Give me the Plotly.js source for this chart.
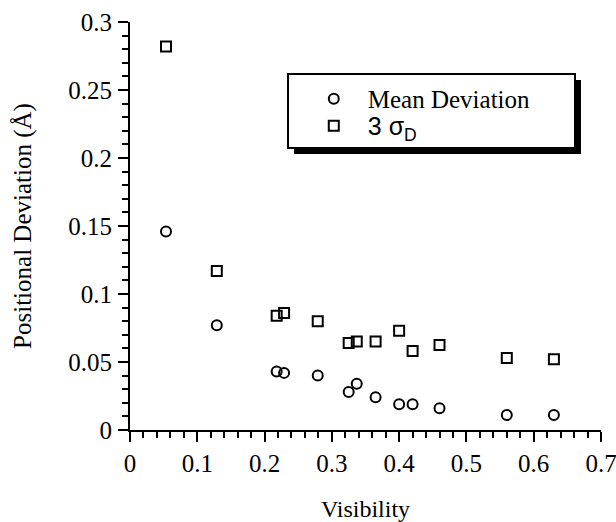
<!DOCTYPE html>
<html>
<head>
<meta charset="utf-8">
<script src="https://cdn.plot.ly/plotly-3.0.1.min.js"></script>
<style>html,body{margin:0;padding:0;background:#fff;}#chart{width:616px;height:522px;}</style>
</head>
<body>
<div id="chart"></div>
<script>
var visibility = [0.0535, 0.129, 0.218, 0.229, 0.279, 0.325, 0.337, 0.365, 0.400, 0.420, 0.460, 0.560, 0.630];
var meanDeviation = [0.146, 0.077, 0.043, 0.042, 0.040, 0.028, 0.034, 0.024, 0.019, 0.019, 0.016, 0.011, 0.011];
var threeSigma = [0.282, 0.117, 0.084, 0.086, 0.080, 0.064, 0.065, 0.065, 0.073, 0.058, 0.0625, 0.053, 0.052];
var seriesNames = ['Mean Deviation', '<span style="font-family:\'Liberation Sans\'">3 σ<sub>D</sub></span>'];
var xTitle = 'Visibility';
var yTitle = 'Positional Deviation (Å)';

var serif = 'Liberation Serif';
var traces = [
  {x: visibility, y: meanDeviation, name: seriesNames[0], type: 'scatter', mode: 'markers', legend: 'legend',
   marker: {symbol: 'circle-open', size: 10, color: '#000', line: {width: 2, color: '#000'}}},
  {x: visibility, y: threeSigma, name: seriesNames[1], type: 'scatter', mode: 'markers', legend: 'legend2',
   marker: {symbol: 'square-open', size: 10, color: '#000', line: {width: 2, color: '#000'}}}
];
var mainAxis = {
  showgrid: false, zeroline: false, showline: true, linecolor: '#000', linewidth: 2,
  ticks: 'outside', ticklen: 10, tickwidth: 2, tickcolor: '#000',
  tickfont: {family: serif, size: 25, color: '#000'}
};
var legendCommon = {xanchor: 'left', yanchor: 'middle', bgcolor: 'rgba(0,0,0,0)', borderwidth: 0,
  font: {family: serif, size: 25, color: '#000'}, itemwidth: 58, indentation: 12};
var layout = {
  width: 616, height: 522,
  font: {family: serif, size: 25, color: '#000'},
  margin: {l: 130, r: 15, t: 22, b: 92},
  paper_bgcolor: '#fff', plot_bgcolor: '#fff',
  showlegend: true,
  legend: Object.assign({}, legendCommon, {x: 0.335, y: 0.8113}),
  legend2: Object.assign({}, legendCommon, {x: 0.335, y: 0.7451}),
  shapes: [
    {type: 'rect', xref: 'paper', yref: 'paper', layer: 'above', x0: 0.3482, x1: 0.9575, y0: 0.6765, y1: 0.8578,
     fillcolor: '#000', line: {width: 0}},
    {type: 'rect', xref: 'paper', yref: 'paper', layer: 'above', x0: 0.3355, x1: 0.9448, y0: 0.6912, y1: 0.8725,
     fillcolor: '#fff', line: {width: 2, color: '#000'}}
  ],
  xaxis: Object.assign({}, mainAxis, {range: [0, 0.7], dtick: 0.1, ticklabeloverflow: 'allow',
    minor: {dtick: 0.02, ticks: 'outside', ticklen: 6},
    title: {text: xTitle, font: {family: serif, size: 24, color: '#000'}, standoff: 28}}),
  yaxis: Object.assign({}, mainAxis, {range: [0, 0.3], dtick: 0.05, ticklabelstandoff: 1,
    minor: {dtick: 0.01, ticks: 'outside', ticklen: 6},
    title: {text: yTitle, font: {family: serif, size: 25, color: '#000'}, standoff: 30}})
};
Plotly.newPlot('chart', traces, layout, {displayModeBar: false});
</script>
</body>
</html>
